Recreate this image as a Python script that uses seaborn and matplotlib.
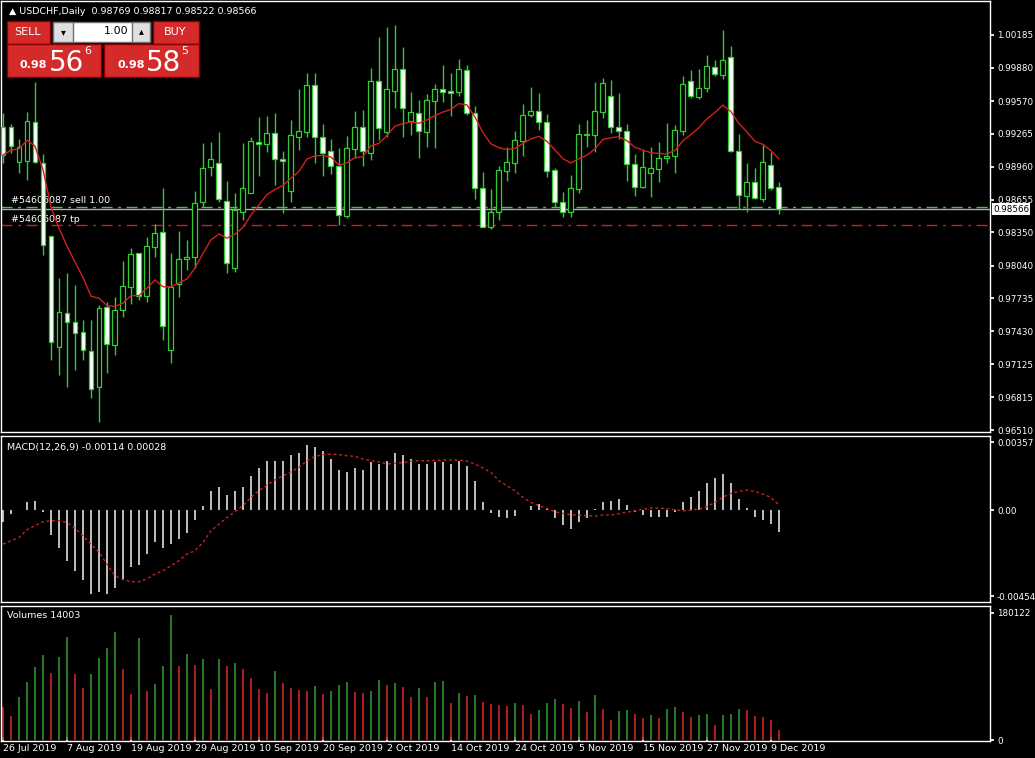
import matplotlib
matplotlib.use("Agg")
import matplotlib.pyplot as plt
import matplotlib.patches as mpatches
import numpy as np
import pandas as pd
import seaborn as sns

# ---- data (98 daily bars, 26 Jul 2019 .. 10 Dec 2019) ----
opens = [0.99333, 0.99327, 0.99001, 0.99017, 0.99373, 0.98992, 0.98316, 0.97287, 0.97597, 0.97513,
         0.97420, 0.97247, 0.96909, 0.97653, 0.97303, 0.97628, 0.97839, 0.98155, 0.97758, 0.98217,
         0.98350, 0.97256, 0.97870, 0.98099, 0.98118, 0.98629, 0.98955, 0.98992, 0.98645, 0.98016,
         0.98536, 0.98719, 0.99194, 0.99169, 0.99271, 0.99029, 0.98738, 0.99240, 0.99286, 0.99721,
         0.99240, 0.99107, 0.98967, 0.98502, 0.99125, 0.99327, 0.99091, 0.99758, 0.99286, 0.99668,
         0.99866, 0.99389, 0.99457, 0.99286, 0.99575, 0.99680, 0.99668, 0.99658, 0.99860, 0.99463,
         0.98760, 0.98397, 0.98536, 0.98924, 0.98998, 0.99203, 0.99442, 0.99479, 0.99373, 0.98930,
         0.98629, 0.98536, 0.98753, 0.99256, 0.99256, 0.99472, 0.99618, 0.99327, 0.99293, 0.98983,
         0.98775, 0.98899, 0.98939, 0.99038, 0.99060, 0.99296, 0.99758, 0.99612, 0.99690, 0.99885,
         0.99814, 0.99984, 0.99110, 0.98688, 0.98815, 0.98660, 0.98977, 0.98769]
highs = [0.99457, 0.99358, 0.99215, 0.99472, 0.99751, 0.99079, 0.98316, 0.97923, 0.97969, 0.97861,
         0.97535, 0.97535, 0.97674, 0.97706, 0.97752, 0.98087, 0.98201, 0.98155, 0.98304, 0.98428,
         0.98760, 0.98155, 0.98366, 0.98279, 0.98738, 0.99178, 0.99194, 0.99280, 0.98831, 0.98719,
         0.99178, 0.99240, 0.99420, 0.99432, 0.99457, 0.99110, 0.99395, 0.99680, 0.99829, 0.99829,
         0.99358, 0.99215, 0.99131, 0.99246, 0.99479, 0.99488, 0.99876, 1.00170, 1.00257, 1.00279,
         1.00077, 0.99658, 0.99581, 0.99637, 0.99730, 0.99906, 0.99835, 0.99962, 0.99906, 0.99525,
         0.98914, 0.98750, 0.98967, 0.99147, 0.99296, 0.99544, 0.99699, 0.99643, 0.99451, 0.98945,
         0.98728, 0.98884, 0.99358, 0.99395, 0.99751, 0.99782, 0.99767, 0.99643, 0.99358, 0.99079,
         0.99116, 0.99147, 0.99194, 0.99364, 0.99348, 0.99804, 0.99860, 0.99866, 1.00000, 0.99953,
         1.00232, 1.00083, 0.99265, 0.98992, 0.98945, 0.99172, 0.99100, 0.98817]
lows = [0.98992, 0.99085, 0.98899, 0.98837, 0.98992, 0.98139, 0.97163, 0.97023, 0.96915, 0.97070,
        0.97163, 0.96806, 0.96589, 0.97039, 0.97210, 0.97566, 0.97684, 0.97721, 0.97706, 0.98124,
        0.97349, 0.97132, 0.97746, 0.98000, 0.98016, 0.98589, 0.98874, 0.98636, 0.97969, 0.97985,
        0.98465, 0.98713, 0.98874, 0.99100, 0.98790, 0.98533, 0.98636, 0.99116, 0.99240, 0.98992,
        0.98874, 0.98893, 0.98419, 0.98481, 0.99038, 0.98970, 0.99023, 0.99209, 0.99240, 0.99504,
        0.99240, 0.99256, 0.99038, 0.99147, 0.99131, 0.99566, 0.99432, 0.99618, 0.99442, 0.98657,
        0.98403, 0.98378, 0.98465, 0.98831, 0.98905, 0.99063, 0.99426, 0.99302, 0.98868, 0.98589,
        0.98496, 0.98496, 0.98713, 0.99147, 0.99100, 0.99410, 0.99277, 0.99215, 0.98831, 0.98688,
        0.98760, 0.98676, 0.98821, 0.98992, 0.98899, 0.99256, 0.99596, 0.99587, 0.99658, 0.99804,
        0.99776, 0.99100, 0.98564, 0.98542, 0.98657, 0.98636, 0.98744, 0.98522]
closes = [0.99069, 0.99153, 0.99141, 0.99386, 0.99001, 0.98232, 0.97327, 0.97606, 0.97513, 0.97411,
          0.97256, 0.96896, 0.97643, 0.97309, 0.97628, 0.97851, 0.98149, 0.97758, 0.98223, 0.98341,
          0.97479, 0.97839, 0.98099, 0.98118, 0.98620, 0.98945, 0.99029, 0.98657, 0.98062, 0.98558,
          0.98760, 0.99200, 0.99169, 0.99271, 0.99029, 0.99011, 0.99256, 0.99293, 0.99721, 0.99234,
          0.99091, 0.98967, 0.98512, 0.99131, 0.99327, 0.99110, 0.99758, 0.99317, 0.99680, 0.99866,
          0.99504, 0.99466, 0.99293, 0.99581, 0.99680, 0.99658, 0.99649, 0.99866, 0.99463, 0.98760,
          0.98403, 0.98539, 0.98930, 0.99001, 0.99209, 0.99442, 0.99479, 0.99380, 0.98924, 0.98636,
          0.98542, 0.98760, 0.99265, 0.99259, 0.99479, 0.99742, 0.99327, 0.99296, 0.98983, 0.98775,
          0.98955, 0.98945, 0.99038, 0.99060, 0.99302, 0.99730, 0.99621, 0.99690, 0.99897, 0.99823,
          0.99953, 0.99110, 0.98697, 0.98815, 0.98666, 0.99001, 0.98766, 0.98566]

macd_hist = [-0.00065, -0.0002, 0.00002, 0.00044, 0.0005, -0.00009, -0.0013, -0.002, -0.0027, -0.0032,
             -0.0037, -0.0044, -0.0043, -0.0044, -0.0041, -0.0036, -0.003, -0.0029, -0.0023, -0.0017,
             -0.002, -0.0018, -0.0015, -0.0012, -0.0005, 0.00023, 0.001, 0.0012, 0.0008, 0.001,
             0.0012, 0.0018, 0.0022, 0.0026, 0.0026, 0.0026, 0.0029, 0.003, 0.0034, 0.0033,
             0.0031, 0.0027, 0.0021, 0.002, 0.0022, 0.0021, 0.0025, 0.0024, 0.0026, 0.003,
             0.0029, 0.0027, 0.0024, 0.0024, 0.0025, 0.0025, 0.0024, 0.0026, 0.0023, 0.0015,
             0.00044, -0.00014, -0.00035, -0.0004, -0.0003, 0.0, 0.00023, 0.00033, 0.00005, -0.0004,
             -0.0008, -0.001, -0.00065, -0.0004, 0.00003, 0.00044, 0.0005, 0.00056, 0.00028, -0.00009,
             -0.00025, -0.00035, -0.00035, -0.00035, -0.00012, 0.0004, 0.0007, 0.001, 0.0014, 0.0017,
             0.0019, 0.0014, 0.0006, 0.00012, -0.00035, -0.0005, -0.00075, -0.00114]
macd_signal = [-0.00179, -0.00161, -0.00144, -0.00103, -0.00082, -0.00061, -0.00056, -0.00056, -0.00065, -0.00096,
               -0.00135, -0.00179, -0.00222, -0.00284, -0.00345, -0.00366, -0.00376, -0.00376, -0.00362, -0.00336,
               -0.00319, -0.00292, -0.00266, -0.00231, -0.00214, -0.0017, -0.00109, -0.00074, -0.00039, -0.00009,
               0.00023, 0.00067, 0.00102, 0.00131, 0.00158, 0.0018, 0.00201, 0.00224, 0.00259, 0.00282,
               0.00291, 0.00294, 0.00291, 0.00285, 0.00282, 0.00268, 0.00259, 0.00254, 0.00242, 0.00245,
               0.0025, 0.00256, 0.00259, 0.00259, 0.00261, 0.00263, 0.00263, 0.00263, 0.00257, 0.00242,
               0.00221, 0.00198, 0.00154, 0.00128, 0.00102, 0.00067, 0.0004, 0.00023, 0.00009, -0.00009,
               -0.00018, -0.00025, -0.00026, -0.0003, -0.00032, -0.00026, -0.00026, -0.00019, -0.00011, -0.00004,
               0.00005, 0.00011, 0.00011, 0.00007, 0.00002, -0.00004, 0.0, 0.00005, 0.00018, 0.0004,
               0.00067, 0.00088, 0.00098, 0.00105, 0.00098, 0.00084, 0.00067, 0.00028]

volumes = [46900, 33800, 61000, 82100, 103200, 120100, 95700, 117300, 145400, 93300,
           73600, 93300, 115800, 129900, 153800, 100400, 65200, 144000, 68900, 78800,
           104600, 177800, 104600, 122400, 106900, 115400, 71800, 114400, 104600, 109700,
           101300, 88600, 71800, 66100, 98500, 80200, 73200, 70400, 68900, 76000,
           65200, 68900, 77400, 81600, 67500, 66100, 68900, 84400, 77900, 80200,
           74600, 60500, 73200, 60500, 81600, 83000, 52100, 66100, 63000, 63800,
           53500, 50700, 49200, 47800, 52100, 49200, 36600, 42200, 52100, 57700,
           50700, 45000, 54900, 39400, 63300, 43600, 28100, 40800, 42200, 36600,
           31000, 35200, 31000, 43600, 46400, 39400, 32400, 35200, 36600, 21100,
           35200, 36600, 43600, 42200, 33800, 32400, 28100, 14003]

date_labels = ["26 Jul 2019", "7 Aug 2019", "19 Aug 2019", "29 Aug 2019", "10 Sep 2019",
               "20 Sep 2019", "2 Oct 2019", "14 Oct 2019", "24 Oct 2019", "5 Nov 2019",
               "15 Nov 2019", "27 Nov 2019", "9 Dec 2019"]
price_ticks = [1.00185, 0.99880, 0.99570, 0.99265, 0.98960, 0.98655, 0.98350,
               0.98040, 0.97735, 0.97430, 0.97125, 0.96815, 0.96510]
sell_price = 0.98588
tp_price = 0.98415
bid_price = 0.98566

df = pd.DataFrame({"o": opens, "h": highs, "l": lows, "c": closes,
                   "hist": macd_hist, "sig": macd_signal, "vol": volumes})
df["x"] = np.arange(len(df))
df["ma"] = df["c"].ewm(span=13).mean()

sns.set_theme(style="dark", rc={"axes.facecolor": "black", "figure.facecolor": "black"})
plt.rcParams["font.family"] = ["DejaVu Sans"]

W, H = 1035, 758
FS = 6.3
fig = plt.figure(figsize=(W / 100, H / 100), dpi=100)


def px_axes(left, top, right, bottom):
    return fig.add_axes([left / W, 1 - bottom / H, (right - left) / W, (bottom - top) / H])


xlim = (-0.25, 123.4)
ax_p = px_axes(1, 1, 990, 432)
ax_m = px_axes(1, 436, 990, 602)
ax_v = px_axes(1, 606, 990, 741)

for ax in (ax_p, ax_m, ax_v):
    ax.set_facecolor("black")
    ax.set_xlim(*xlim)
    ax.grid(False)
    for s in ax.spines.values():
        s.set_color("white")
        s.set_linewidth(1)
    ax.yaxis.tick_right()
    ax.tick_params(axis="y", colors="white", labelsize=FS, length=3, pad=2, direction="out")
    ax.set_xticks([])

# ---- price panel ----
green = "#32cd32"
ax_p.set_ylim(0.96493, 1.00501)
ax_p.vlines(df["x"], df["l"], df["h"], color=green, linewidth=1, zorder=2)
bear = df["c"] < df["o"]
body_lo = np.minimum(df["o"], df["c"])
body_h = np.maximum(np.abs(df["c"] - df["o"]), 0.00004)
ax_p.bar(df["x"], body_h, bottom=body_lo, width=0.62,
         color=np.where(bear, "white", "black"), edgecolor=green, linewidth=0.9, zorder=3)
sns.lineplot(data=df, x="x", y="ma", ax=ax_p, color="#d21f1f", linewidth=1, zorder=4)
ax_p.axhline(sell_price, color="#32cd32", linewidth=1, linestyle=(0, (8, 4, 2, 4)), zorder=1)
ax_p.axhline(bid_price, color="#b0b0b0", linewidth=1, zorder=1)
ax_p.axhline(tp_price, color="#c82020", linewidth=1, linestyle=(0, (8, 4, 2, 4)), zorder=1)
ax_p.text(1, sell_price + 0.00035, "#54606087 sell 1.00", color="white", fontsize=FS + 0.5, zorder=1)
ax_p.text(1, tp_price + 0.00035, "#54606087 tp", color="white", fontsize=FS + 0.5, zorder=1)
ax_p.set_yticks(price_ticks)
ax_p.set_yticklabels([f"{t:.5f}" for t in price_ticks])
ax_p.set_ylabel("")
ax_p.set_xlabel("")
ax_p.text(1.003, bid_price, f"{bid_price:.5f}", transform=ax_p.get_yaxis_transform(),
          color="black", fontsize=FS, va="center", ha="left", zorder=10,
          bbox=dict(facecolor="white", edgecolor="none", pad=1))
ax_p.text(0.008, 0.985, "\u25b2 USDCHF,Daily  0.98769 0.98817 0.98522 0.98566",
          transform=ax_p.transAxes, color="white", fontsize=FS + 0.5, va="top", zorder=10)

# trade panel widget
def fig_rect(l, t, r, b, **kw):
    fig.patches.append(mpatches.Rectangle((l / W, 1 - b / H), (r - l) / W, (b - t) / H,
                                          transform=fig.transFigure, **kw))


fig_rect(7, 21, 50, 44, facecolor="#d42a2a", edgecolor="#8a0000", zorder=20)
fig_rect(153, 21, 199, 44, facecolor="#d42a2a", edgecolor="#8a0000", zorder=20)
fig_rect(53, 22, 150, 42, facecolor="white", edgecolor="#707070", zorder=20)
fig_rect(53, 22, 73, 42, facecolor="#e0e0e0", edgecolor="#707070", zorder=21)
fig_rect(132, 22, 150, 42, facecolor="#e0e0e0", edgecolor="#707070", zorder=21)
fig_rect(7, 44, 101, 77, facecolor="#d42a2a", edgecolor="#8a0000", zorder=20)
fig_rect(104, 44, 199, 77, facecolor="#d42a2a", edgecolor="#8a0000", zorder=20)
tkw = dict(transform=fig.transFigure, color="white", zorder=30)
fig.text(28 / W, 1 - 32 / H, "SELL", fontsize=8, ha="center", va="center", **tkw)
fig.text(175 / W, 1 - 32 / H, "BUY", fontsize=8, ha="center", va="center", **tkw)
fig.text(128 / W, 1 - 31 / H, "1.00", fontsize=8, ha="right", va="center",
         transform=fig.transFigure, color="black", zorder=30)
fig.text(63 / W, 1 - 32 / H, "\u25be", fontsize=7, ha="center", va="center",
         transform=fig.transFigure, color="black", zorder=30)
fig.text(141 / W, 1 - 31 / H, "\u25b4", fontsize=7, ha="center", va="center",
         transform=fig.transFigure, color="black", zorder=30)
fig.text(20 / W, 1 - 68 / H, "0.98", fontsize=8, ha="left", va="baseline", weight="bold", **tkw)
fig.text(49 / W, 1 - 71 / H, "56", fontsize=20, ha="left", va="baseline", **tkw)
fig.text(84 / W, 1 - 54 / H, "6", fontsize=8, ha="left", va="baseline", **tkw)
fig.text(118 / W, 1 - 68 / H, "0.98", fontsize=8, ha="left", va="baseline", weight="bold", **tkw)
fig.text(146 / W, 1 - 71 / H, "58", fontsize=20, ha="left", va="baseline", **tkw)
fig.text(181 / W, 1 - 54 / H, "5", fontsize=8, ha="left", va="baseline", **tkw)

# ---- MACD panel ----
ax_m.set_ylim(-0.00483, 0.00389)
ax_m.vlines(df["x"], 0, df["hist"], color="#e0e0e0", linewidth=1.2)
sns.lineplot(data=df, x="x", y="sig", ax=ax_m, color="#d21f1f", linewidth=1,
             linestyle=(0, (2, 2)))
ax_m.set_yticks([0.00357, 0.0, -0.00454])
ax_m.set_yticklabels(["0.00357", "0.00", "-0.00454"])
ax_m.set_ylabel("")
ax_m.set_xlabel("")
ax_m.text(0.006, 0.96, "MACD(12,26,9) -0.00114 0.00028", transform=ax_m.transAxes,
          color="white", fontsize=FS + 0.5, va="top")

# ---- volume panel ----
vol_up = df["vol"].diff() > 0
vol_colors = np.where(vol_up, "#2f8f2f", "#d42020")
ax_v.set_ylim(-1400, 189970)
ax_v.vlines(df["x"], 0, df["vol"], colors=vol_colors, linewidth=1.2)
ax_v.set_yticks([180122, 0])
ax_v.set_yticklabels(["180122", "0"])
ax_v.text(0.006, 0.96, "Volumes 14003", transform=ax_v.transAxes,
          color="white", fontsize=FS + 0.5, va="top")
ax_v.set_xticks(np.arange(0, 8 * len(date_labels), 8))
ax_v.set_xticklabels(date_labels)
ax_v.tick_params(axis="x", colors="white", labelsize=FS + 0.5, length=3, direction="in",
                 pad=2, bottom=True)
for lbl in ax_v.get_xticklabels():
    lbl.set_ha("left")

fig.savefig("out.png", dpi=100, facecolor="black")
